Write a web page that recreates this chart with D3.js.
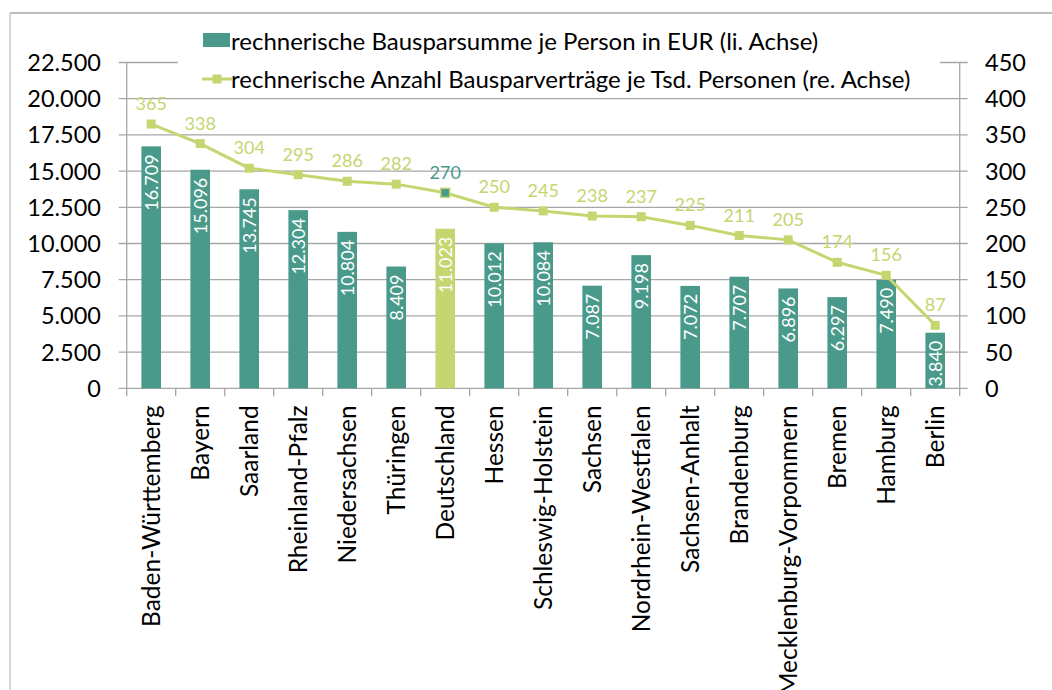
<!DOCTYPE html>
<html>
<head>
<meta charset="utf-8">
<script src="https://cdn.jsdelivr.net/npm/d3@7"></script>
<style>
  body { margin: 0; background: #ffffff; }
  svg { display: block; }
</style>
</head>
<body>
<div id="chart"></div>
<script>
// Data
const laender = ["Baden-Württemberg", "Bayern", "Saarland", "Rheinland-Pfalz", "Niedersachsen",
  "Thüringen", "Deutschland", "Hessen", "Schleswig-Holstein", "Sachsen", "Nordrhein-Westfalen",
  "Sachsen-Anhalt", "Brandenburg", "Mecklenburg-Vorpommern", "Bremen", "Hamburg", "Berlin"];
const bausparsumme = [16709, 15096, 13745, 12304, 10804, 8409, 11023, 10012, 10084, 7087, 9198,
  7072, 7707, 6896, 6297, 7490, 3840];
const vertraege = [365, 338, 304, 295, 286, 282, 270, 250, 245, 238, 237, 225, 211, 205, 174, 156, 87];
const leftTicks = [0, 2500, 5000, 7500, 10000, 12500, 15000, 17500, 20000, 22500];
const rightTicks = [0, 50, 100, 150, 200, 250, 300, 350, 400, 450];
const legendLabels = [
  "rechnerische Bausparsumme je Person in EUR (li. Achse)",
  "rechnerische Anzahl Bausparverträge je Tsd. Personen (re. Achse)"
];
const highlight = "Deutschland";

const width = 1052;
const height = 690;
const margin = { top: 62.5, right: 92.3, bottom: 301.7, left: 126.7 };
const teal = "#4a9a8b";
const green = "#c3d66f";
const gridColor = "#a6a6a6";
const font = "Lato, 'Open Sans', sans-serif";
const fmt = d3.formatLocale({ decimal: ",", thousands: ".", grouping: [3], currency: ["", "€"] }).format(",d");

const svg = d3.select("#chart")
  .append("svg")
  .attr("width", width)
  .attr("height", height);

// outer frame (only top and left edges visible)
svg.append("line").attr("x1", 10).attr("x2", width).attr("y1", 13).attr("y2", 13)
  .attr("stroke", "#a6a6a6").attr("stroke-width", 1.5);
svg.append("line").attr("x1", 10).attr("x2", 10).attr("y1", 13).attr("y2", height)
  .attr("stroke", "#c8c8c8").attr("stroke-width", 1.5);

const x = d3.scaleBand()
  .domain(laender)
  .range([margin.left, width - margin.right])
  .padding(0);

const yL = d3.scaleLinear()
  .domain([0, 22500])
  .range([height - margin.bottom, margin.top]);

const yR = d3.scaleLinear()
  .domain([0, 450])
  .range([height - margin.bottom, margin.top]);

const x0 = margin.left, x1 = width - margin.right, yb = height - margin.bottom;

// gridlines (with short outer ticks on both sides)
svg.append("g")
  .selectAll("line")
  .data(leftTicks)
  .join("line")
  .attr("x1", x0 - 8)
  .attr("x2", x1 + 8)
  .attr("y1", d => yL(d))
  .attr("y2", d => yL(d))
  .attr("stroke", gridColor)
  .attr("stroke-width", 1.3);

// vertical axis lines
[x0, x1].forEach(xx => {
  svg.append("line")
    .attr("x1", xx).attr("x2", xx)
    .attr("y1", margin.top).attr("y2", yb)
    .attr("stroke", gridColor).attr("stroke-width", 1.3);
});

// category ticks between bands
const bounds = laender.map(d => x(d)).concat([x1]);
svg.append("g")
  .selectAll("line")
  .data(bounds)
  .join("line")
  .attr("x1", d => d).attr("x2", d => d)
  .attr("y1", yb).attr("y2", yb + 8)
  .attr("stroke", gridColor).attr("stroke-width", 1.3);

// left tick labels
svg.append("g")
  .selectAll("text")
  .data(leftTicks)
  .join("text")
  .attr("x", 101)
  .attr("y", d => yL(d))
  .attr("dy", "0.36em")
  .attr("text-anchor", "end")
  .style("font-family", font)
  .style("font-size", "23.5px")
  .attr("fill", "#000")
  .text(d => fmt(d));

// right tick labels
svg.append("g")
  .selectAll("text")
  .data(rightTicks)
  .join("text")
  .attr("x", 985)
  .attr("y", d => yR(d))
  .attr("dy", "0.36em")
  .attr("text-anchor", "start")
  .style("font-family", font)
  .style("font-size", "23.5px")
  .attr("fill", "#000")
  .text(d => d);

// category labels
svg.append("g")
  .selectAll("text")
  .data(laender)
  .join("text")
  .attr("transform", d => `translate(${x(d) + x.bandwidth() / 2}, ${yb + 17}) rotate(-90)`)
  .attr("dy", "0.36em")
  .attr("text-anchor", "end")
  .style("font-family", font)
  .style("font-size", "24.5px")
  .attr("fill", "#000")
  .text(d => d);

// bars
const barW = x.bandwidth() * 0.4;
svg.append("g")
  .selectAll("rect")
  .data(laender)
  .join("rect")
  .attr("x", d => x(d) + (x.bandwidth() - barW) / 2)
  .attr("y", (d, i) => yL(bausparsumme[i]))
  .attr("width", barW)
  .attr("height", (d, i) => yb - yL(bausparsumme[i]))
  .attr("fill", d => d === highlight ? green : teal);

// bar value labels (inside end, rotated)
svg.append("g")
  .selectAll("text")
  .data(laender)
  .join("text")
  .attr("transform", (d, i) => `translate(${x(d) + x.bandwidth() / 2}, ${yL(bausparsumme[i]) + 8}) rotate(-90)`)
  .attr("dy", "0.36em")
  .attr("text-anchor", "end")
  .style("font-family", font)
  .style("font-size", "18px")
  .attr("fill", "#ffffff")
  .text((d, i) => fmt(bausparsumme[i]));

// line series
const line = d3.line()
  .x((d, i) => x(laender[i]) + x.bandwidth() / 2)
  .y(d => yR(d));

svg.append("path")
  .datum(vertraege)
  .attr("d", line)
  .attr("fill", "none")
  .attr("stroke", green)
  .attr("stroke-width", 3);

const mk = 9;
svg.append("g")
  .selectAll("rect")
  .data(laender)
  .join("rect")
  .attr("x", d => x(d) + x.bandwidth() / 2 - mk / 2)
  .attr("y", (d, i) => yR(vertraege[i]) - mk / 2)
  .attr("width", mk)
  .attr("height", mk)
  .attr("fill", d => d === highlight ? teal : green)
  .attr("stroke", green)
  .attr("stroke-width", d => d === highlight ? 1.5 : 0);

svg.append("g")
  .selectAll("text")
  .data(laender)
  .join("text")
  .attr("x", d => x(d) + x.bandwidth() / 2)
  .attr("y", (d, i) => yR(vertraege[i]) - 14)
  .attr("text-anchor", "middle")
  .style("font-family", font)
  .style("font-size", "18px")
  .attr("fill", d => d === highlight ? teal : green)
  .text((d, i) => vertraege[i]);

// legend
const legend = svg.append("g");
legend.append("rect")
  .attr("x", 178).attr("y", 20)
  .attr("width", 762).attr("height", 72)
  .attr("fill", "#ffffff");

legend.append("rect")
  .attr("x", 203).attr("y", 33)
  .attr("width", 27).attr("height", 14)
  .attr("fill", teal);

legend.append("line")
  .attr("x1", 202).attr("x2", 232)
  .attr("y1", 79).attr("y2", 79)
  .attr("stroke", green).attr("stroke-width", 3);
legend.append("rect")
  .attr("x", 217 - mk / 2).attr("y", 79 - mk / 2)
  .attr("width", mk).attr("height", mk)
  .attr("fill", green);

legendLabels.forEach((t, i) => {
  legend.append("text")
    .attr("x", 231)
    .attr("y", i === 0 ? 41 : 79)
    .attr("dy", "0.36em")
    .style("font-family", font)
    .style("font-size", "24px")
    .attr("fill", "#000")
    .text(t);
});
</script>
</body>
</html>
